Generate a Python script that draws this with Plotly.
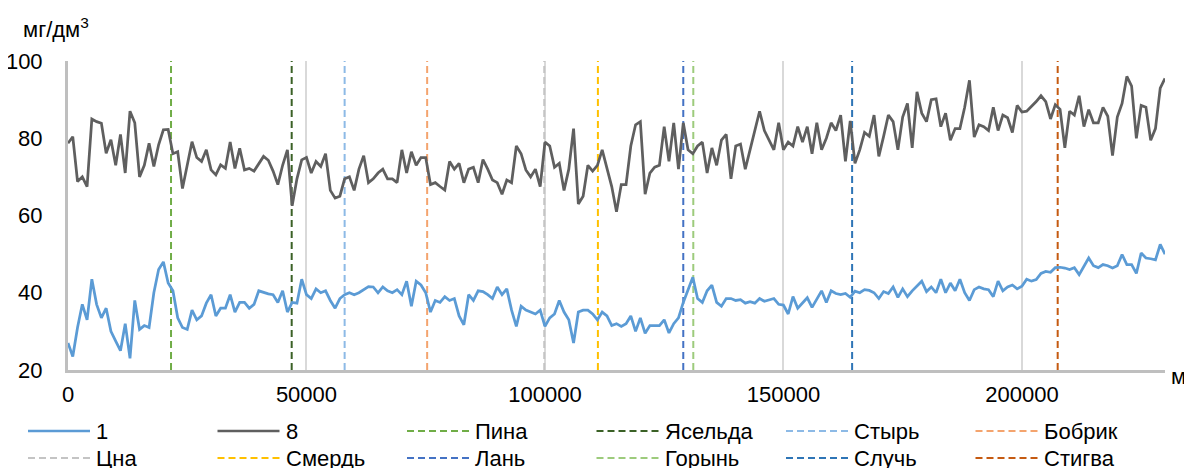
import plotly.graph_objects as go

# distance along river, m (sampled every 1000 m)
distance_m = list(range(0, 231000, 1000))

series_1 = [
    27, 23.5, 31, 37, 33, 43.5, 37, 33.5, 36, 30,
    27.5, 25, 32, 23, 38, 30.5, 31.5, 31, 40, 46,
    48, 42.5, 40.5, 33.5, 31, 30.5, 35.5, 33, 34, 37.3,
    39.5, 34, 36, 36, 39.5, 35, 37.5, 37.5, 36, 37,
    40.5, 40, 39.7, 39.5, 37.5, 40.5, 35, 37.5, 37.3, 43.5,
    39.5, 38.5, 41, 40, 40.5, 38, 36, 38.5, 39.5, 40,
    39.5, 40, 40.8, 41.6, 41.5, 40, 41.5, 40.5, 40, 40.8,
    39.5, 43, 36.5, 43, 42, 40, 35, 38, 37.5, 39,
    38, 38.5, 34, 31.7, 39.5, 38, 40.5, 40.3, 39.5, 38.5,
    41.5, 39.5, 41, 35.5, 31.3, 36.5, 35.5, 35, 34.5, 35.5,
    31.3, 33.5, 34.5, 38, 35, 33, 27, 35, 35.5, 35.5,
    34.5, 33, 35, 34, 31.5, 32, 31.3, 32, 34, 30,
    33.5, 29.5, 31.5, 31.5, 31.5, 33, 29.6, 32, 33.5, 37.5,
    41, 44, 38.5, 37.5, 40.5, 42, 37.5, 36.5, 38.5, 38.5,
    38, 38.2, 37.3, 37.7, 37.3, 38.5, 37.8, 38.2, 38.5, 37,
    36.8, 34.5, 39, 36, 37.5, 38.7, 36.2, 38.5, 40.5, 37.5,
    40.5, 39.8, 39.5, 39.8, 38.8, 40.4, 40, 40.8, 40.6, 40,
    38.5, 40.3, 39.8, 41.5, 38.8, 41, 39, 40.5, 41.8, 43,
    40.3, 41.5, 40, 43.5, 40, 42.5, 40.5, 43.5, 40, 38,
    40.8, 41.5, 41, 40.8, 39, 43, 40.5, 41.5, 42, 41,
    41.7, 43.5, 43, 43.4, 45, 45.5, 45.3, 46.5, 46.6, 46.4,
    46, 46.5, 44.7, 47, 49, 47, 46.5, 47.3, 47, 46.4,
    47, 49.9, 47.3, 47.3, 45, 50.3, 49, 48.8, 48.5, 52.5,
    50,
]

series_8 = [
    78.7, 80.4, 68.8, 70, 67.5, 85, 84.3, 83.9, 76.1, 79.6,
    73, 81, 71, 87, 84, 70, 73, 78.7, 72.7, 78.3,
    82.2, 82.3, 76, 76.5, 67, 73.5, 79.1, 75, 74, 77,
    71.8, 70.5, 73.1, 72.2, 79, 72.2, 77.4, 71.8, 72.2, 71.5,
    73.5, 75.3, 74.3, 71.5, 68, 73, 77, 62.5, 69.5, 74.4,
    75, 71, 74, 72.7, 76, 66.5, 64.5, 65, 69.5, 70,
    66.5, 72, 75.5, 68.5, 69.5, 71, 72, 69.5, 69.5, 68.5,
    77, 71, 76.5, 73, 75, 75, 68, 68.5, 67.5, 66.6,
    74, 72, 73.5, 68.5, 72, 72.5, 68.5, 74.5, 72, 69.2,
    68.5, 65.5, 69.2, 68.5, 78, 76, 71.8, 70, 72, 67.5,
    79, 78, 72.5, 73.5, 66.5, 72, 82.5, 63, 65, 73,
    71.5, 73, 77, 72, 67.5, 61, 68, 68, 78, 83.5,
    84.3, 65.5, 71, 72.5, 73, 83, 74, 84, 72, 84,
    77, 76, 78, 79, 71, 77.5, 73, 79.5, 81, 69.5,
    78, 78.5, 72, 77, 82, 87, 82, 79.5, 77, 84,
    77, 79, 78, 83, 79, 83, 76, 84, 77, 80,
    84, 82, 86, 74, 84.5, 73.5, 77, 81.5, 80.5, 86,
    75.3, 80.5, 86, 84.3, 77, 85.5, 89, 77.5, 92, 86.5,
    84.3, 90, 90.2, 83, 86.5, 79.5, 82.5, 82.5, 88, 95,
    80.3, 83.5, 83, 82, 88, 82, 86, 85.3, 81.5, 88.5,
    86.8, 87, 88.2, 89.5, 91, 89.5, 85, 88.7, 87.5, 77.5,
    87, 86, 91, 83, 87.4, 84, 84, 88, 85.7, 75.5,
    85.5, 89, 96, 93.5, 80, 88.5, 88, 79.5, 82.5, 93,
    95.5,
]

# tributary confluences, m
tributaries = ["Пина", "Ясельда", "Стырь", "Бобрик", "Цна",
               "Смердь", "Лань", "Горынь", "Случь", "Стигва"]
tributary_pos = [21600, 46900, 58000, 75300, 99850,
                 111100, 129000, 131100, 164400, 207500]
tributary_colors = ["#70AD47", "#3B6126", "#8DBAE6", "#F4A46E", "#C4C4C4",
                    "#FFC000", "#4472C4", "#9DCB7C", "#2E75B6", "#C55A11"]

y_range = [20, 100]
x_range = [0, 230000]

FONT = "Liberation Sans, Arial, sans-serif"
DASH = "7px,4px"

fig = go.Figure()

for name, pos, col in zip(tributaries, tributary_pos, tributary_colors):
    fig.add_trace(go.Scatter(
        x=[pos, pos], y=y_range, mode="lines", name=name,
        line=dict(color=col, width=2, dash=DASH), showlegend=False,
        hoverinfo="skip"))

fig.add_trace(go.Scatter(x=distance_m, y=series_8, mode="lines", name="8",
                         line=dict(color="#5F5F5F", width=2.75), showlegend=False))
fig.add_trace(go.Scatter(x=distance_m, y=series_1, mode="lines", name="1",
                         line=dict(color="#5B9BD5", width=2.75), showlegend=False))

# page body has an 8px margin: figure coordinates are screen coordinates minus 8
OFF = 8
W, H = 1192 - OFF, 468 - OFF
L, R, T, B = 68 - OFF, 1165 - OFF, 61 - OFF, 370 - OFF


def px(xs):
    return (xs - OFF - L) / (R - L)


def py(ys):
    return (B - (ys - OFF)) / (B - T)


fig.update_layout(
    width=W, height=H,
    margin=dict(l=L, r=W - R, t=T, b=H - B, autoexpand=False),
    paper_bgcolor="white", plot_bgcolor="white",
    font=dict(family=FONT, size=22, color="#000000"),
    showlegend=False,
    xaxis=dict(range=x_range, tickvals=[0, 50000, 100000, 150000, 200000],
               tickformat="d", showgrid=True, gridcolor="#D9D9D9", gridwidth=2,
               showline=True, linecolor="#BFBFBF", linewidth=3,
               zeroline=False, ticks="outside", ticklen=3,
               tickcolor="rgba(0,0,0,0)", tickfont=dict(size=22)),
    yaxis=dict(range=y_range, tickvals=[20, 40, 60, 80, 100],
               showgrid=False, showline=True, linecolor="#BFBFBF", linewidth=3,
               zeroline=False, ticks="outside", ticklen=18,
               tickcolor="rgba(0,0,0,0)", tickfont=dict(size=22)),
)

annotations = [
    dict(text="мг/дм<sup>3</sup>", x=px(21), y=py(28), xref="paper", yref="paper",
         xanchor="left", yanchor="middle", showarrow=False, font=dict(size=22)),
    dict(text="м", x=px(1169), y=py(376), xref="paper", yref="paper",
         xanchor="left", yanchor="middle", showarrow=False, font=dict(size=22)),
]
shapes = []

legend_names = ["1", "8"] + tributaries
legend_colors = ["#5B9BD5", "#5F5F5F"] + tributary_colors
legend_dash = ["solid", "solid"] + [DASH] * len(tributaries)
for i, (nm, col, ds) in enumerate(zip(legend_names, legend_colors, legend_dash)):
    c, r = i % 6, i // 6
    x0 = 28 + 189.5 * c
    yc = 431 + 27 * r
    shapes.append(dict(type="line", xref="paper", yref="paper",
                       x0=px(x0), x1=px(x0 + 62), y0=py(yc), y1=py(yc),
                       line=dict(color=col, width=2.5 if ds == "solid" else 2, dash=ds)))
    annotations.append(dict(text=nm, x=px(x0 + 66), y=py(yc), xref="paper", yref="paper",
                            xanchor="left", yanchor="middle", showarrow=False,
                            font=dict(size=22)))

fig.update_layout(annotations=annotations, shapes=shapes)

fig.write_html("out.html")
